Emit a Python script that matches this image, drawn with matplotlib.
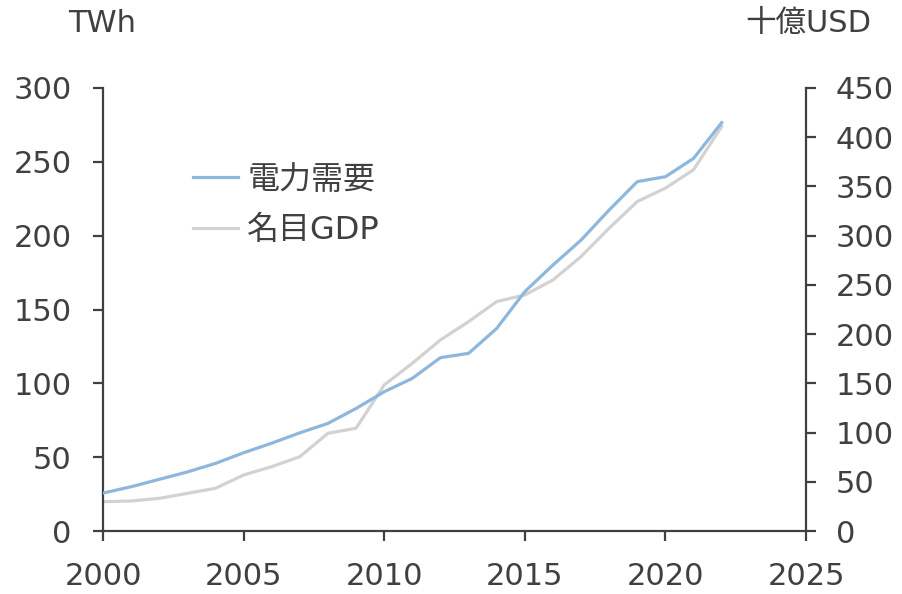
import matplotlib
matplotlib.use("Agg")
import matplotlib.pyplot as plt

plt.rcParams['font.family'] = ['DejaVu Sans', 'Noto Sans CJK JP']

years = list(range(2000, 2023))
power_twh = [25.7, 30.0, 35.0, 40.0, 45.8, 53.0, 59.5, 66.5, 72.9, 83.0, 94.3, 103.4,
             117.4, 120.3, 137.2, 162.1, 180.1, 197.0, 217.4, 236.6, 239.9, 252.3, 276.5]
gdp_busd = [29.8, 30.5, 33.2, 38.3, 43.4, 56.9, 65.4, 75.5, 99.3, 104.4, 148.4, 170.4,
            194.1, 212.7, 233.0, 239.8, 255.0, 278.8, 307.6, 334.7, 348.3, 366.9, 410.9]

left_ticks = [0, 50, 100, 150, 200, 250, 300]
right_ticks = [0, 50, 100, 150, 200, 250, 300, 350, 400, 450]
x_ticks = [2000, 2005, 2010, 2015, 2020, 2025]

label_power = "電力需要"
label_gdp = "名目GDP"
unit_left = "TWh"
unit_right = "十億USD"

text_c = "#404040"
spine_c = "#404040"
blue = "#8DB7DD"
gray = "#D2D2D2"
fs = 22

fig = plt.figure(figsize=(9.02, 5.94), dpi=100)
ax = fig.add_axes([0.1142, 0.106, 0.7794, 0.7459])
ax2 = ax.twinx()

l1, = ax.plot(years, power_twh, color=blue, lw=2.3, zorder=3)
l2, = ax2.plot(years, gdp_busd, color=gray, lw=2.3, zorder=2)
ax.set_zorder(ax2.get_zorder() + 1)
ax.patch.set_visible(False)

ax.set_xlim(2000, 2025)
ax.set_ylim(0, 300)
ax2.set_ylim(0, 450)
ax.set_xticks(x_ticks)
ax.set_yticks(left_ticks)
ax2.set_yticks(right_ticks)

for a in (ax, ax2):
    a.spines['top'].set_visible(False)
    for s in ('left', 'right', 'bottom'):
        a.spines[s].set_color(spine_c)
        a.spines[s].set_linewidth(1.6)
    a.tick_params(axis='both', direction='out', length=7.5, width=1.6, color=spine_c,
                  labelsize=fs, labelcolor=text_c)
ax.tick_params(axis='y', pad=15)
ax.tick_params(axis='x', pad=15)
ax2.tick_params(axis='y', pad=14)
ax.spines['right'].set_visible(False)
ax2.spines['left'].set_visible(False)
ax2.spines['bottom'].set_visible(False)

fig.text(0.075, 0.96, unit_left, fontsize=fs, color=text_c, ha='left', va='center')
fig.text(0.966, 0.96, unit_right, fontsize=fs, color=text_c, ha='right', va='center')

leg = fig.legend([l1, l2], [label_power, label_gdp], loc='upper left',
                 bbox_to_anchor=(0.214, 0.723), frameon=False, fontsize=23,
                 borderpad=0, borderaxespad=0,
                 handlelength=1.4, handletextpad=0.3, labelspacing=0.6)
for t in leg.get_texts():
    t.set_color(text_c)

fig.savefig("out.png", dpi=100)
